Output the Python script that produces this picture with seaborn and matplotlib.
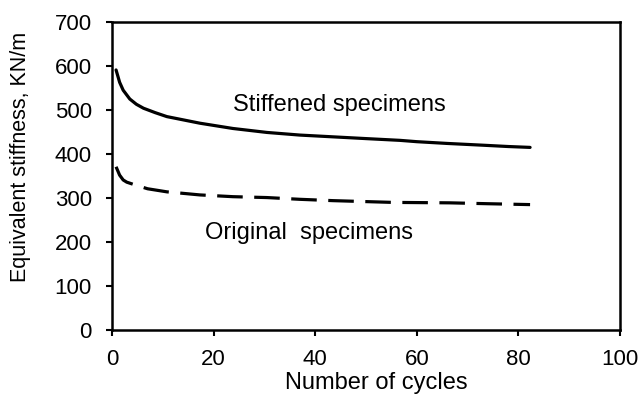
import matplotlib
matplotlib.use("Agg")
import matplotlib.pyplot as plt
import seaborn as sns
import pandas as pd

cycles_stiff = [0.8, 1.5, 2.2, 3.5, 4.8, 6.2, 8.5, 10.8, 17.3, 23.8, 30.5, 37, 43.5, 50, 56.7, 60, 66, 73, 78, 82.3]
stiff = [591, 563, 545, 525, 513, 504, 494, 485, 470, 458, 449, 443, 439, 435, 431, 428, 424, 420, 417, 415]
cycles_orig = [0.8, 1.5, 2.2, 2.9, 4.2, 7, 10.8, 17.3, 23.8, 30.5, 37, 43.5, 55.3, 66.5, 74, 82.3]
orig = [371, 352, 341, 336, 331, 321, 314, 307, 303, 301, 297, 294, 290, 289, 287, 285]

sns.set_theme(style="white")
plt.rcParams['font.family'] = ['Liberation Sans', 'DejaVu Sans']

fig = plt.figure(figsize=(6.43, 3.94), dpi=100)
ax = fig.add_axes([112 / 643, 64 / 394, 508 / 643, 308 / 394])

df_s = pd.DataFrame({"x": cycles_stiff, "y": stiff})
df_o = pd.DataFrame({"x": cycles_orig, "y": orig})
sns.lineplot(data=df_s, x="x", y="y", ax=ax, color="black", lw=2.3)
sns.lineplot(data=df_o, x="x", y="y", ax=ax, color="black", lw=2.3)
ax.lines[1].set_dashes([8, 3.6])

ax.set_xlim(0, 100)
ax.set_ylim(0, 700)
ax.set_xticks(range(0, 101, 20))
ax.set_yticks(range(0, 701, 100))
ax.tick_params(axis='both', direction='out', length=4.5, width=1.5, labelsize=16,
               color='black', labelcolor='black', bottom=True, left=True)
ax.tick_params(axis='x', pad=9)
ax.tick_params(axis='y', pad=10)
for s in ax.spines.values():
    s.set_visible(True)
    s.set_color('black')
    s.set_linewidth(1.8)
ax.set_xlabel("Number of cycles", fontsize=17, color='black')
ax.xaxis.label.set_va('baseline')
ax.xaxis.set_label_coords(0.52, -0.192)
ax.set_ylabel("Equivalent stiffness, KN/m", fontsize=15.5, color='black')
ax.yaxis.set_label_coords(-0.16, 0.562)

ax.text(23.8, 498, "Stiffened specimens", fontsize=17, va='baseline', ha='left', color='black')
ax.text(18.3, 207, "Original  specimens", fontsize=17, va='baseline', ha='left', color='black')

fig.savefig("out.png", dpi=100)
